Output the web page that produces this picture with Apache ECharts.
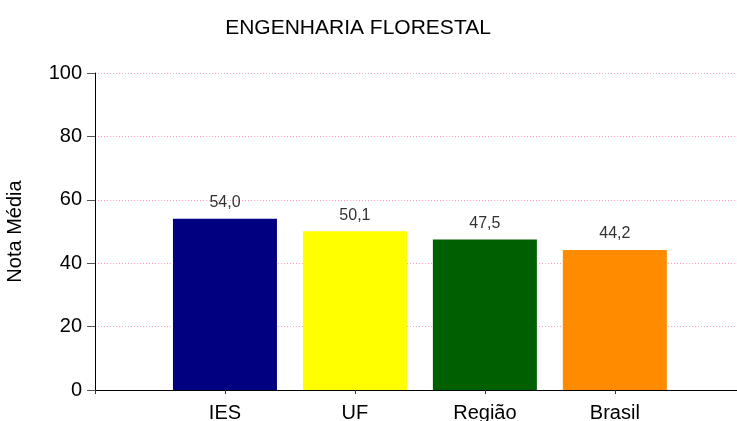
<!DOCTYPE html>
<html>
<head>
<meta charset="utf-8">
<script src="https://cdn.jsdelivr.net/npm/echarts@6/dist/echarts.min.js"></script>
<style>
  html, body { margin: 0; padding: 0; background: #fff; }
  #chart { width: 737px; height: 421px; }
</style>
</head>
<body>
<div id="chart"></div>
<script>
// dados do gráfico
const categorias = ['IES', 'UF', 'Região', 'Brasil'];
const notas = [54.0, 50.1, 47.5, 44.2];
const cores = ['#000080', '#ffff00', '#006000', '#ff8c00'];
const yTicks = [0, 20, 40, 60, 80, 100];

const chart = echarts.init(document.getElementById('chart'));

// posição de cada barra = índice + 1 no eixo x
const dados = notas.map((v, i) => ({
  value: [i + 1, v],
  itemStyle: { color: cores[i] }
}));

const option = {
  animation: false,
  textStyle: { fontFamily: 'Liberation Sans, Arial, sans-serif' },
  title: {
    text: 'ENGENHARIA FLORESTAL',
    left: 353,
    textAlign: 'center',
    top: 13,
    textStyle: { fontSize: 21, fontWeight: 'normal', color: '#000', fontFamily: 'Liberation Sans' }
  },
  // rótulos do eixo x ficam cortados na borda inferior, como no original
  grid: { left: 95, right: 0, top: 73, bottom: 31, outerBoundsMode: 'none' },
  xAxis: {
    type: 'value',
    min: 0,
    max: 4.94,
    interval: 1,
    axisLine: { lineStyle: { color: '#000', width: 1 } },
    axisTick: { length: 4, lineStyle: { color: '#333' }, customValues: [0, 1, 2, 3, 4] },
    splitLine: { show: false },
    axisLabel: {
      margin: 13,
      fontSize: 20,
      color: '#000',
      formatter: v => categorias[Math.round(v) - 1] || ''
    }
  },
  yAxis: {
    type: 'value',
    min: yTicks[0],
    max: yTicks[yTicks.length - 1],
    interval: 20,
    name: 'Nota Média',
    nameLocation: 'middle',
    nameRotate: 90,
    nameGap: 70,
    nameTextStyle: { fontSize: 20, color: '#000' },
    axisLine: { show: true, lineStyle: { color: '#000', width: 1 } },
    axisTick: { show: true, length: 8, lineStyle: { color: '#555' } },
    axisLabel: { margin: 13, fontSize: 20, color: '#000' },
    splitLine: { lineStyle: { type: [1, 2], color: '#ff9fb8', width: 1 } }
  },
  series: [{
    type: 'bar',
    data: dados,
    barWidth: 104,
    label: {
      show: true,
      position: 'top',
      distance: 8,
      fontSize: 16,
      color: '#333',
      formatter: p => p.value[1].toFixed(1).replace('.', ',')
    }
  }]
};

chart.setOption(option);
</script>
</body>
</html>
